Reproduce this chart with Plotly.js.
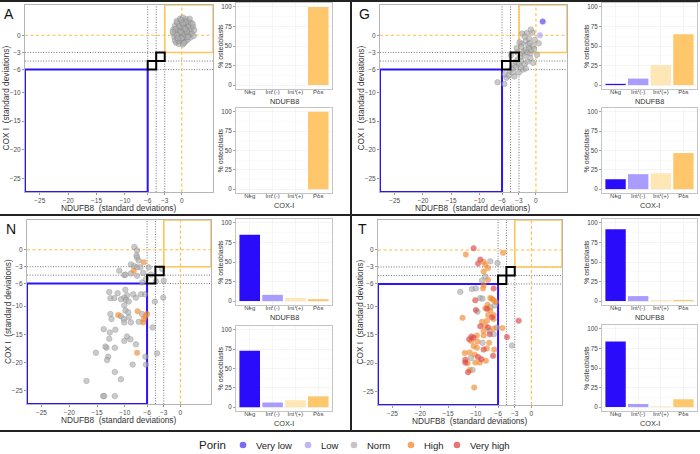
<!DOCTYPE html>
<html>
<head>
<meta charset="utf-8">
<script src="https://cdn.plot.ly/plotly-3.0.1.min.js"></script>
<style>html,body{margin:0;padding:0;background:#fff;}#chart{width:700px;height:454px;}</style>
</head>
<body>
<div id="chart"></div>
<script>
// ---------------- DATA ----------------
const categories = ['Neg', 'Int (-)', 'Int (+)', 'Pos'];
const porinLevels = ['Very low', 'Low', 'Norm', 'High', 'Very high'];
const xTicks = [-25, -20, -15, -10, -6, -3, 0];
const yTicks = [0, -3, -6, -10, -15, -20, -25];
const barTicks = [0, 25, 50, 75, 100];

const barA_NDUFB8 = [0, 0, 0, 100];
const barA_COX = [0, 0, 0, 100];
const barG_NDUFB8 = [1.6, 8.3, 25.5, 65];
const barG_COX = [12.8, 19.4, 20.6, 46.7];
const barN_NDUFB8 = [85, 8, 4, 2.5];
const barN_COX = [73, 6, 9, 14];
const barT_NDUFB8 = [92, 6.4, 1.5, 1.5];
const barT_COX = [84, 4, 1, 10];

// scatter points [NDUFB8, COX I]
const A_norm = [[-1.5,1.0],[-1.3,-0.3],[-1.2,1.7],[-1.0,-1.3],[-1.0,0.7],[-0.9,2.5],[-0.8,-0.7],[-0.7,1.3],[-0.6,0.2],[-0.5,2.0],[-0.5,-1.5],[-0.4,0.9],[-0.3,-0.4],[-0.3,2.9],[-0.2,1.5],[-0.1,-1.0],[0.0,0.5],[0.0,2.3],[0.1,0.0],[0.1,1.2],[0.2,3.1],[0.2,-1.6],[0.3,1.8],[0.3,-0.6],[0.4,0.7],[0.5,2.5],[0.5,0.2],[0.6,1.5],[0.6,-1.1],[0.7,1.0],[0.8,2.8],[0.8,-0.3],[0.9,2.0],[1.0,0.5],[1.0,-0.8],[1.1,1.4],[1.2,2.5],[1.2,0.1],[1.3,1.7],[1.4,0.8],[1.5,-0.4],[1.6,2.2],[1.7,1.1],[1.8,0.3],[2.0,1.5],[2.2,0.9],[2.1,-0.1],[-1.4,0.3],[-1.1,1.1],[-0.8,2.2],[-0.6,-1.0],[-0.2,0.6],[0.3,1.4],[0.0,-0.5],[-0.4,1.6],[0.7,2.3],[0.4,-1.3],[1.4,2.9],[-0.9,0.0],[0.9,0.7],[-1.2,-0.9],[0.2,2.1],[1.1,-0.3],[-0.1,2.7],[0.6,1.1],[-1.6,0.6],[-0.7,-0.5],[1.9,2.0]];

const G_veryLow = [[1.2,2.4]];
const G_low = [[0.7,0.0]];
const G_norm = [[-6.8,-8.2],[-5.6,-8.5],[-5.2,-7.4],[-5.5,-6.8],[-4.8,-7.0],[-4.6,-6.2],[-4.2,-5.8],[-4.0,-6.5],[-3.8,-5.2],[-3.5,-5.5],[-3.6,-4.6],[-3.2,-4.2],[-3.0,-5.0],[-2.8,-3.8],[-2.6,-4.5],[-2.4,-3.2],[-2.2,-2.8],[-2.0,-3.6],[-1.8,-2.5],[-1.5,-3.0],[-1.2,-2.2],[-1.0,-3.2],[-0.8,-2.6],[-0.5,-1.8],[-0.3,-2.4],[-2.5,-1.5],[-1.8,-1.0],[-1.2,-0.6],[-2.4,0.3],[-0.6,0.5],[-1.6,0.4],[-0.9,1.0],[0.5,-1.4],[-1.0,-4.0],[-2.0,-5.0],[-3.0,-6.5],[-1.5,-4.6],[-0.5,-4.8],[-4.4,-3.5],[-3.4,-2.2],[-2.9,-1.2],[0.2,-3.4],[-0.2,-0.8],[-1.4,-1.6],[-2.6,-2.0],[-2.0,-0.2],[-3.8,-7.2],[-2.3,-6.0],[-1.8,-5.8],[-3.3,-3.0],[-2.7,-5.6],[-1.1,-1.4]];

const N_norm = [[-8.3,0.5],[-7.8,-0.1],[-7.9,-1.0],[-7.8,-1.4],[-7.5,-1.9],[-8.9,-2.6],[-8.3,-2.9],[-7.8,-3.1],[-7.2,-3.1],[-11.0,-3.7],[-8.9,-4.2],[-10.1,-4.5],[-9.9,-4.4],[-7.8,-4.6],[-6.7,-4.1],[-5.7,-3.1],[-6.2,-5.2],[-3.0,-5.5],[-3.1,-8.5],[-4.6,-9.2],[-6.4,-7.9],[-7.1,-7.9],[-8.0,-8.5],[-8.5,-7.9],[-9.6,-8.1],[-10.1,-8.5],[-9.8,-8.9],[-9.9,-7.1],[-11.3,-7.7],[-12.8,-7.5],[-12.6,-8.6],[-11.9,-8.6],[-10.7,-8.8],[-9.3,-9.2],[-10.1,-9.9],[-12.6,-11.4],[-12.4,-12.3],[-9.9,-10.8],[-9.4,-11.1],[-10.7,-11.8],[-10.2,-12.3],[-10.1,-12.9],[-9.3,-12.0],[-8.9,-12.9],[-7.5,-12.8],[-6.9,-11.4],[-5.0,-13.8],[-13.8,-14.1],[-12.7,-14.7],[-11.7,-14.2],[-12.8,-15.8],[-13.3,-17.4],[-13.5,-17.2],[-11.8,-17.4],[-9.6,-15.4],[-10.1,-16.2],[-9.0,-15.9],[-8.0,-16.8],[-15.2,-18.3],[-13.0,-19.0],[-13.2,-19.6],[-6.3,-19.0],[-4.2,-18.4],[-8.6,-20.4],[-6.2,-20.4],[-11.8,-21.7],[-10.7,-23.0],[-16.9,-23.3],[-13.9,-26.0],[-13.7,-26.0],[-11.8,-26.0],[-3.3,-3.4],[-6.9,-5.8],[-4.4,-5.6],[-5.3,-4.4]];
const N_high = [[-6.6,-2.2],[-8.4,-3.7],[-7.7,-10.9],[-11.2,-11.6],[-6.6,-12.3],[-6.3,-11.8],[-6.0,-11.4],[-6.7,-12.9],[-7.8,-18.3]];

const T_norm = [[-7.4,-2.0],[-6.1,-2.3],[-8.3,-4.7],[-8.9,-5.4],[-10.7,-6.9],[-10.0,-6.8],[-12.8,-7.4],[-9.2,-8.5],[-8.8,-8.6],[-7.4,-10.1],[-6.6,-9.8],[-9.7,-10.9],[-6.2,-13.7],[-7.5,-14.3],[-3.5,-16.9],[-6.8,-14.9],[-8.8,-16.4],[-10.9,-19.1],[-10.6,-21.2]];
const T_high = [[-11.8,-0.8],[-5.1,-0.5],[-8.6,-2.1],[-8.3,-2.6],[-7.8,-3.2],[-7.8,-5.3],[-8.6,-6.2],[-8.7,-6.8],[-7.4,-8.5],[-7.1,-8.6],[-6.8,-8.9],[-6.4,-9.2],[-7.9,-9.7],[-8.3,-10.3],[-7.4,-10.7],[-7.8,-11.5],[-6.8,-11.5],[-12.4,-12.0],[-6.8,-12.2],[-8.0,-12.5],[-8.9,-12.7],[-8.3,-13.4],[-6.8,-13.9],[-5.2,-13.8],[-8.6,-14.3],[-8.6,-15.1],[-9.8,-15.1],[-10.8,-16.1],[-9.7,-16.2],[-7.6,-16.4],[-6.7,-17.6],[-8.0,-17.4],[-9.8,-17.3],[-10.4,-17.0],[-11.1,-18.1],[-12.0,-18.2],[-10.2,-18.5],[-8.2,-19.6],[-9.3,-19.9],[-10.1,-19.9],[-11.5,-20.0],[-11.1,-21.2],[-10.3,-24.3],[-8.6,-3.8]];
const T_veryHigh = [[-10.4,0.3],[-9.2,-1.7],[-9.6,-2.4],[-6.8,-6.8],[-10.1,-8.9],[-8.0,-10.4],[-10.0,-10.6],[-7.1,-11.9],[-9.2,-13.5],[-7.8,-13.7],[-2.3,-12.5],[-4.4,-15.4],[-7.5,-14.9],[-10.4,-15.5],[-10.8,-15.3],[-11.2,-15.8],[-8.6,-17.6],[-9.6,-18.9],[-9.0,-19.3],[-11.9,-19.4],[-11.9,-19.9],[-6.9,-18.7],[-11.4,-21.6]];

// ---------------- STYLE / LAYOUT ----------------
const W = 700, H = 454;
const FONT = 'Liberation Sans, Arial, sans-serif';
const fx = p => p / W;
const fy = p => 1 - p / H;
const XR = [-27.6, 5.5], YR = [-27.4, 5.3];
const porinColors = {'Very low':'#4b3af0','Low':'#a89df5','Norm':'#b0b0b0','High':'#f28a2e','Very high':'#dc4545'};
const barColors = ['#2a0cfb', '#a99cff', '#ffe6b5', '#ffc76c'];

const traces = [];
const layout = {
  width: W, height: H, margin: {l:0, r:0, t:0, b:0},
  paper_bgcolor: '#fff', plot_bgcolor: '#fff',
  font: {family: FONT, color: '#222'},
  showlegend: false,
  shapes: [], annotations: []
};

function ax(n) { return n === 1 ? '' : String(n); }

function addScatterPanel(n, box, letter, groups) {
  const s = ax(n);
  const common = {showline: true, mirror: true, linecolor: '#b5b5b5', linewidth: 1,
    ticks: 'outside', ticklen: 2, tickcolor: '#555', tickwidth: 0.6, showgrid: false, zeroline: false,
    tickfont: {size: 6.5, color: '#4d4d4d'}, fixedrange: true};
  layout['xaxis' + s] = Object.assign({domain: [fx(box[0]), fx(box[1])], range: XR, anchor: 'y' + s, tickvals: xTicks, ticklabelstandoff: -1.5}, common);
  layout['yaxis' + s] = Object.assign({domain: [fy(box[3]), fy(box[2])], range: YR, anchor: 'x' + s, tickvals: yTicks}, common);
  const xr = 'x' + s, yr = 'y' + s;
  const dxr = 'x' + s + ' domain', dyr = 'y' + s + ' domain';
  const sh = layout.shapes;
  const dotted = {color:'#666', width:0.9, dash:'1px,1.6px'};
  [-6, -4.5, -3].forEach(v => {
    sh.push({type:'line', xref:xr, yref:dyr, x0:v, x1:v, y0:0, y1:1, line:dotted, layer:'below'});
    sh.push({type:'line', xref:dxr, yref:yr, x0:0, x1:1, y0:v, y1:v, line:dotted, layer:'below'});
  });
  const dashed = {color:'#ffbe3c', width:1.1, dash:'3px,2.5px'};
  sh.push({type:'line', xref:xr, yref:dyr, x0:0, x1:0, y0:0, y1:1, line:dashed, layer:'below'});
  sh.push({type:'line', xref:dxr, yref:yr, x0:0, x1:1, y0:0, y1:0, line:dashed, layer:'below'});
  sh.push({type:'rect', xref:xr, yref:yr, x0:XR[0], y0:YR[0], x1:-6, y1:-6, line:{color:'#2b14ff', width:2}, layer:'below'});
  sh.push({type:'rect', xref:xr, yref:yr, x0:-3, y0:-3, x1:XR[1], y1:YR[1], line:{color:'#ffc65a', width:1.6}, layer:'below'});
  sh.push({type:'rect', xref:xr, yref:yr, x0:-6, y0:-6, x1:-4.5, y1:-4.5, line:{color:'#000', width:2}, layer:'above'});
  sh.push({type:'rect', xref:xr, yref:yr, x0:-4.5, y0:-4.5, x1:-3, y1:-3, line:{color:'#000', width:2}, layer:'above'});

  groups.forEach(([level, pts]) => {
    const c = porinColors[level];
    traces.push({type:'scatter', mode:'markers', xaxis:xr, yaxis:yr, name:level,
      x: pts.map(p => p[0]), y: pts.map(p => p[1]),
      marker:{size:5.5, color:c, opacity:0.65, line:{color: level === 'Norm' ? '#808080' : c, width:0.6}},
      hoverinfo:'skip'});
  });

  layout.annotations.push({xref:'paper', yref:'paper', x:fx((box[0]+box[1])/2), y:fy(box[3]+16), xanchor:'center', yanchor:'middle',
    text:'NDUFB8  (standard deviations)', showarrow:false, font:{size:8.3, color:'#333'}});
  layout.annotations.push({xref:'paper', yref:'paper', x:fx(box[0]-19), y:fy((box[2]+box[3])/2), xanchor:'center', yanchor:'middle',
    text:'COX I  (standard deviations)', textangle:-90, showarrow:false, font:{size:8.3, color:'#333'}});
  layout.annotations.push({xref:'paper', yref:'paper', x:fx(box[0]-16), y:fy(box[2]+9), xanchor:'center', yanchor:'middle',
    text:letter, showarrow:false, font:{size:14, color:'#111'}});
}

function addBarPanel(n, box, values, title) {
  const s = ax(n);
  layout['xaxis' + s] = {domain:[fx(box[0]), fx(box[1])], type:'category', categoryorder:'array', categoryarray:categories,
    range:[-0.6, 3.6], anchor:'y' + s, showline:true, mirror:true, linecolor:'#c4c4c4', linewidth:1,
    showgrid:true, gridcolor:'#efefef', gridwidth:0.6, ticks:'outside', ticklen:1.5, tickcolor:'#666', tickwidth:0.6,
    ticklabelstandoff:-5, tickfont:{size:6, color:'#444'}, fixedrange:true};
  layout['yaxis' + s] = {domain:[fy(box[3]), fy(box[2])], range:[-5, 105], anchor:'x' + s, tickvals:barTicks,
    showline:true, mirror:true, linecolor:'#c4c4c4', linewidth:1, showgrid:true, gridcolor:'#efefef', gridwidth:0.6,
    zeroline:false, ticks:'outside', ticklen:2, tickcolor:'#666', tickwidth:0.6,
    minor:{tickvals:[12.5, 37.5, 62.5, 87.5], showgrid:true, gridcolor:'#f7f7f7', ticks:''},
    tickfont:{size:6.3, color:'#444'}, fixedrange:true};
  traces.push({type:'bar', xaxis:'x' + s, yaxis:'y' + s, x:categories, y:values, width:0.9,
    marker:{color:barColors, line:{width:0}}, hoverinfo:'skip'});
  layout.annotations.push({xref:'paper', yref:'paper', x:fx((box[0]+box[1])/2), y:fy(box[3]+12.5), xanchor:'center', yanchor:'middle',
    text:title, showarrow:false, font:{size:7.3, color:'#333'}});
  layout.annotations.push({xref:'paper', yref:'paper', x:fx(box[0]-16), y:fy((box[2]+box[3])/2), xanchor:'center', yanchor:'middle',
    text:'% osteoblasts', textangle:-90, showarrow:false, font:{size:7, color:'#333'}});
}

// Panel A
addScatterPanel(1, [25, 213, 5, 192], 'A', [['Norm', A_norm]]);
addBarPanel(2, [236, 332, 3, 89], barA_NDUFB8, 'NDUFB8');
addBarPanel(3, [236, 332, 108, 193], barA_COX, 'COX-I');
// Panel G
addScatterPanel(4, [380, 567, 5, 192], 'G', [['Norm', G_norm], ['Low', G_low], ['Very low', G_veryLow]]);
addBarPanel(5, [602, 697, 3, 89], barG_NDUFB8, 'NDUFB8');
addBarPanel(6, [602, 697, 108, 193], barG_COX, 'COX-I');
// Panel N
addScatterPanel(7, [27, 211, 220, 404], 'N', [['Norm', N_norm], ['High', N_high]]);
addBarPanel(8, [236, 332, 219, 305], barN_NDUFB8, 'NDUFB8');
addBarPanel(9, [236, 332, 326, 411], barN_COX, 'COX-I');
// Panel T
addScatterPanel(10, [378, 562, 220, 405], 'T', [['Norm', T_norm], ['High', T_high], ['Very high', T_veryHigh]]);
addBarPanel(11, [602, 697, 219, 305], barT_NDUFB8, 'NDUFB8');
addBarPanel(12, [602, 697, 325, 411], barT_COX, 'COX-I');

// panel frame lines
[[0, 1, 700, 1], [0, 215, 700, 215], [0, 431, 700, 431], [351, 0, 351, 431]].forEach(l => {
  layout.shapes.push({type:'line', xref:'paper', yref:'paper', x0:fx(l[0]), y0:fy(l[1]), x1:fx(l[2]), y1:fy(l[3]),
    line:{color:'#222', width:2}});
});

// legend (compact, drawn as keys + labels)
const legendY = 445;
const legendKeyX = [243, 308, 354, 411, 457];
layout.annotations.push({xref:'paper', yref:'paper', x:fx(197), y:fy(legendY), xanchor:'left', yanchor:'middle',
  text:'Porin', showarrow:false, font:{size:11.5, color:'#222'}});
porinLevels.forEach((lv, i) => {
  const cx = legendKeyX[i];
  layout.shapes.push({type:'circle', xref:'paper', yref:'paper', x0:fx(cx-3.3), x1:fx(cx+3.3), y0:fy(legendY+3.3), y1:fy(legendY-3.3),
    fillcolor:porinColors[lv], opacity:0.75, line:{width:0}});
  layout.annotations.push({xref:'paper', yref:'paper', x:fx(cx+11), y:fy(legendY), xanchor:'left', yanchor:'middle',
    text:lv, showarrow:false, font:{size:9.5, color:'#222'}});
});

Plotly.newPlot('chart', traces, layout, {staticPlot:true, displayModeBar:false});
</script>
</body>
</html>
